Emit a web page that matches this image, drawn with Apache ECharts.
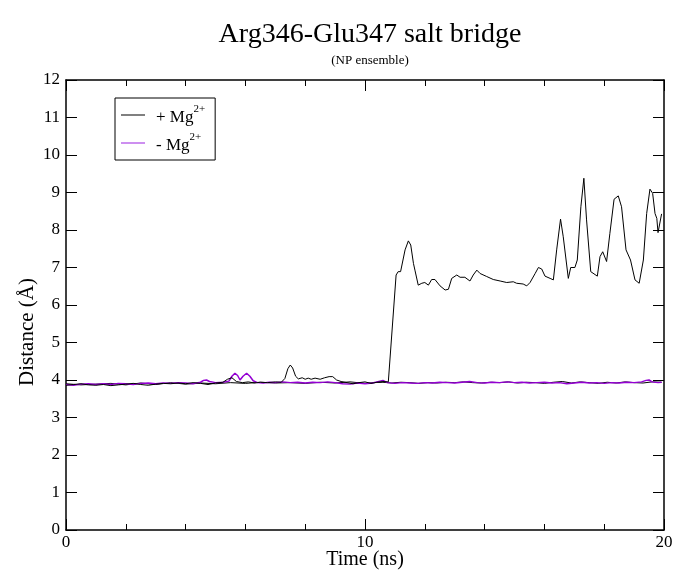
<!DOCTYPE html>
<html>
<head>
<meta charset="utf-8">
<script src="https://cdn.jsdelivr.net/npm/echarts@6/dist/echarts.min.js"></script>
<style>
  html, body { margin: 0; padding: 0; background: #fff; }
  #chart { width: 674px; height: 571px; }
</style>
</head>
<body>
<div id="chart"></div>
<script>
// Salt-bridge distance (Å) vs simulation time (ns)

// + Mg2+ run: main trace
const plusTime = [
  0.0, 0.25, 0.5, 0.75, 1.0, 1.25, 1.5, 1.75, 2.0, 2.25, 2.5, 2.75, 3.0, 3.25, 3.5, 3.75,
  4.0, 4.25, 4.5, 4.75, 5.0, 5.25, 5.4, 5.55, 5.7, 5.9, 6.1, 6.3, 6.5, 6.75, 7.0, 7.2,
  7.32, 7.42, 7.5, 7.58, 7.68, 7.77, 7.9, 8.0, 8.1, 8.2, 8.33, 8.5, 8.65, 8.8, 8.92, 9.05,
  9.2, 9.4, 9.6, 9.8, 10.0, 10.2, 10.4, 10.6, 10.78,
  11.04, 11.11, 11.19, 11.34, 11.45, 11.53, 11.62, 11.67, 11.78, 11.9, 12.0, 12.12, 12.23,
  12.34, 12.51, 12.68, 12.79, 12.9, 13.07, 13.18, 13.34, 13.51, 13.62, 13.74, 13.85, 14.07,
  14.29, 14.52, 14.74, 14.96, 15.07, 15.29, 15.41, 15.52, 15.69, 15.8, 15.91, 16.02, 16.19,
  16.3, 16.41, 16.54, 16.63, 16.8, 16.88, 17.02, 17.1, 17.22, 17.32, 17.41, 17.55, 17.77,
  17.86, 17.95, 18.08, 18.19, 18.33, 18.47, 18.58, 18.73, 18.88, 19.03, 19.17, 19.31, 19.42,
  19.53, 19.62, 19.7, 19.76, 19.8, 19.85, 19.92
];
const plusDist = [
  3.86, 3.88, 3.90, 3.87, 3.86, 3.88, 3.85, 3.87, 3.89, 3.91, 3.88, 3.86, 3.89, 3.91, 3.90, 3.92,
  3.90, 3.93, 3.91, 3.88, 3.92, 3.94, 4.02, 4.06, 3.96, 3.93, 3.95, 3.92, 3.94, 3.93, 3.95, 3.94,
  4.04, 4.30, 4.40, 4.32, 4.10, 4.03, 4.06, 4.02, 4.05, 4.02, 4.05, 4.02, 4.06, 4.09, 4.09, 4.00,
  3.96, 3.93, 3.90, 3.93, 3.95, 3.91, 3.94, 3.96, 3.95,
  6.80, 6.89, 6.89, 7.47, 7.71, 7.60, 7.11, 6.93, 6.53, 6.58, 6.60, 6.53, 6.68,
  6.68, 6.51, 6.40, 6.42, 6.71, 6.80, 6.74, 6.74, 6.64, 6.80, 6.93, 6.84, 6.76,
  6.68, 6.64, 6.60, 6.62, 6.58, 6.56, 6.51, 6.60, 6.84, 7.00, 6.96, 6.77, 6.71,
  6.67, 7.47, 8.29, 7.82, 6.71, 7.00, 7.00, 7.20, 8.62, 9.38, 8.27, 6.89, 6.77,
  7.29, 7.42, 7.16, 7.91, 8.82, 8.91, 8.62, 7.47, 7.20, 6.67, 6.58, 7.20, 8.44,
  9.09, 8.98, 8.44, 8.31, 7.93, 7.93, 8.43
];

// + Mg2+ run: second bridge pair, stays bound
const plus2Time = [
  0.0, 0.5, 1.0, 1.5, 2.0, 2.5, 3.0, 3.5, 4.0, 4.5, 5.0, 5.5, 6.0, 6.5, 7.0, 7.5, 8.0, 8.5,
  9.0, 9.5, 10.0, 10.3, 10.6, 10.9, 11.2, 11.5, 11.8, 12.1, 12.4, 12.7, 13.0, 13.3, 13.6,
  13.9, 14.2, 14.5, 14.8, 15.1, 15.4, 15.7, 16.0, 16.3, 16.6, 16.9, 17.2, 17.5, 17.8, 18.1,
  18.4, 18.7, 19.0, 19.3, 19.6, 19.92
];
const plus2Dist = [
  3.90, 3.87, 3.89, 3.91, 3.87, 3.92, 3.88, 3.93, 3.89, 3.92, 3.90, 3.93, 3.91, 3.94, 3.92,
  3.93, 3.91, 3.94, 3.92, 3.95, 3.91, 3.93, 3.94, 3.92, 3.94, 3.93, 3.91, 3.93, 3.92, 3.94,
  3.93, 3.95, 3.93, 3.92, 3.94, 3.93, 3.95, 3.92, 3.94, 3.93, 3.91, 3.94, 3.96, 3.92, 3.95,
  3.93, 3.91, 3.94, 3.92, 3.95, 3.93, 3.92, 3.95, 3.94
];

// - Mg2+ run
const minusTime = [
  0.0, 0.25, 0.5, 0.75, 1.0, 1.25, 1.5, 1.75, 2.0, 2.25, 2.5, 2.75, 3.0, 3.25, 3.5, 3.75,
  4.0, 4.25, 4.5, 4.6, 4.7, 4.8, 5.0, 5.25, 5.45, 5.55, 5.65, 5.74, 5.82, 5.92, 6.04, 6.15,
  6.26, 6.4, 6.6, 6.8, 7.0, 7.25, 7.5, 7.75, 8.0, 8.25, 8.5, 8.75, 9.0, 9.25, 9.5, 9.75,
  10.0, 10.25, 10.5, 10.6, 10.75, 11.0, 11.25, 11.5, 11.75, 12.0, 12.25, 12.5, 12.75, 13.0,
  13.25, 13.5, 13.75, 14.0, 14.25, 14.5, 14.75, 15.0, 15.25, 15.5, 15.75, 16.0, 16.25, 16.5,
  16.75, 17.0, 17.25, 17.5, 17.75, 18.0, 18.25, 18.5, 18.75, 19.0, 19.25, 19.4, 19.5, 19.6,
  19.8, 19.92
];
const minusDist = [
  3.88, 3.86, 3.89, 3.90, 3.88, 3.90, 3.88, 3.91, 3.90, 3.88, 3.91, 3.92, 3.90, 3.92, 3.91, 3.93,
  3.92, 3.90, 3.94, 3.99, 4.00, 3.96, 3.93, 3.94, 3.97, 4.10, 4.18, 4.12, 4.00, 4.10, 4.18, 4.10,
  3.98, 3.93, 3.92, 3.94, 3.93, 3.95, 3.93, 3.94, 3.92, 3.94, 3.93, 3.95, 3.93, 3.90, 3.89, 3.92,
  3.90, 3.92, 3.97, 3.99, 3.93, 3.91, 3.93, 3.92, 3.91, 3.93, 3.92, 3.94, 3.93, 3.92,
  3.94, 3.96, 3.93, 3.92, 3.94, 3.93, 3.95, 3.93, 3.94, 3.92, 3.93, 3.94, 3.92, 3.93,
  3.90, 3.92, 3.94, 3.92, 3.93, 3.91, 3.93, 3.92, 3.94, 3.93, 3.95, 3.99, 4.00, 3.95,
  3.93, 3.94
];

const PLUS = '+ Mg2+';
const MINUS = '- Mg2+';
const serif = '"Liberation Serif", "Times New Roman", "DejaVu Serif", serif';

const pairs = (xs, ys) => xs.map((x, i) => [x, ys[i]]);

const chart = echarts.init(document.getElementById('chart'), null, { renderer: 'canvas' });

const frameAxis = {
  type: 'value',
  axisLine: { show: true, onZero: false, lineStyle: { color: '#000', width: 1.5 } },
  axisTick: { show: true, inside: true, length: 11, lineStyle: { color: '#000', width: 1 } },
  splitLine: { show: false }
};

chart.setOption({
  animation: false,
  backgroundColor: '#fff',
  title: {
    text: 'Arg346-Glu347 salt bridge',
    subtext: '(NP ensemble)',
    left: 365,
    textAlign: 'center',
    top: 16,
    itemGap: 5,
    textStyle: { fontFamily: serif, fontSize: 28, fontWeight: 'normal', color: '#000' },
    subtextStyle: { fontFamily: serif, fontSize: 13, color: '#000' }
  },
  grid: { left: 66, right: 10, top: 80, bottom: 41, containLabel: false, outerBoundsMode: 'none' },
  legend: {
    orient: 'vertical',
    left: 115,
    top: 98,
    data: [PLUS, MINUS],
    backgroundColor: '#fff',
    borderColor: '#000',
    borderWidth: 1,
    padding: [6, 10, 6, 6],
    itemGap: 6,
    itemWidth: 24,
    itemHeight: 1,
    icon: 'rect',
    formatter: n => (n === PLUS ? '{a|+ Mg}{s|2+}' : '{a|- Mg}{s|2+}'),
    textStyle: {
      padding: [0, 0, 0, 6],
      rich: {
        a: { fontFamily: serif, fontSize: 17, color: '#000', lineHeight: 22, verticalAlign: 'bottom' },
        s: { fontFamily: serif, fontSize: 11, color: '#000', lineHeight: 12, verticalAlign: 'top' }
      }
    }
  },
  xAxis: [
    Object.assign({}, frameAxis, {
      position: 'bottom', min: 0, max: 20, interval: 10,
      minorTick: { show: true, splitNumber: 5, length: 6, lineStyle: { color: '#000', width: 1 } },
      axisLabel: { show: true, margin: 4, fontFamily: serif, fontSize: 17, color: '#000' },
      name: 'Time (ns)', nameLocation: 'middle', nameGap: 20, nameMoveOverlap: false,
      nameTextStyle: { fontFamily: serif, fontSize: 20, color: '#000' }
    }),
    Object.assign({}, frameAxis, {
      position: 'top', min: 0, max: 20, interval: 10,
      minorTick: { show: true, splitNumber: 5, length: 6, lineStyle: { color: '#000', width: 1 } },
      axisLabel: { show: false }
    })
  ],
  yAxis: [
    Object.assign({}, frameAxis, {
      position: 'left', min: 0, max: 12, interval: 1,
      axisLabel: { show: true, margin: 6, fontFamily: serif, fontSize: 17, color: '#000' },
      name: 'Distance (Å)', nameLocation: 'middle', nameGap: 28, nameMoveOverlap: false,
      nameTextStyle: { fontFamily: serif, fontSize: 21, color: '#000', padding: [0, 54, 0, 0] }
    }),
    Object.assign({}, frameAxis, {
      position: 'right', min: 0, max: 12, interval: 1,
      axisLabel: { show: false }
    })
  ],
  series: [
    {
      name: PLUS, type: 'line', showSymbol: false, symbol: 'none',
      color: '#000', lineStyle: { color: '#000', width: 1 },
      data: pairs(plus2Time, plus2Dist), z: 2
    },
    {
      name: MINUS, type: 'line', showSymbol: false, symbol: 'none',
      color: '#9a1ee0', lineStyle: { color: '#9400d3', width: 1.5 },
      data: pairs(minusTime, minusDist), z: 3
    },
    {
      name: PLUS, type: 'line', showSymbol: false, symbol: 'none',
      color: '#000', lineStyle: { color: '#000', width: 1 },
      data: pairs(plusTime, plusDist), z: 4
    }
  ]
});
</script>
</body>
</html>
